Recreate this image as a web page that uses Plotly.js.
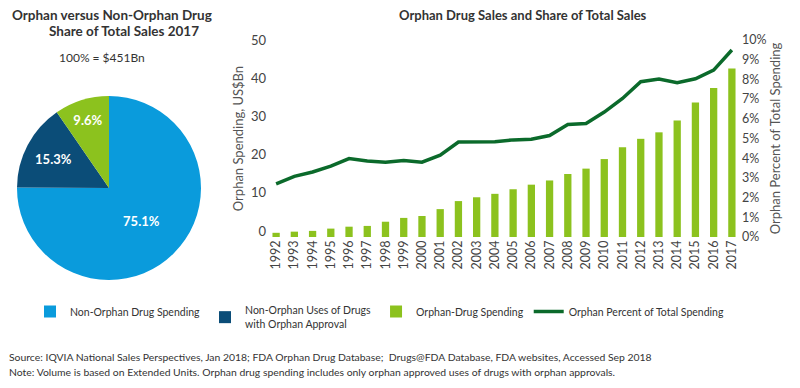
<!DOCTYPE html>
<html>
<head>
<meta charset="utf-8">
<script src="https://cdn.plot.ly/plotly-3.0.1.min.js"></script>
<style>html,body{margin:0;padding:0;background:#fff}#chart{width:800px;height:388px}</style>
</head>
<body>
<div id="chart"></div>
<script>
// ---- data ----
const years = ["1992","1993","1994","1995","1996","1997","1998","1999","2000","2001","2002","2003","2004","2005","2006","2007","2008","2009","2010","2011","2012","2013","2014","2015","2016","2017"];
const orphanSpending = [1.1,1.4,1.6,2.2,2.7,2.9,4.0,5.0,5.5,7.3,9.4,10.4,11.3,12.5,13.7,14.8,16.5,17.9,20.4,23.5,25.7,27.4,30.5,35.2,39.0,44.1];
const orphanPercent = [2.7,3.08,3.3,3.6,3.98,3.86,3.8,3.88,3.8,4.15,4.82,4.82,4.84,4.93,4.96,5.15,5.71,5.76,6.34,7.03,7.88,8.02,7.83,8.03,8.47,9.49];
const pieLabels = ["Non-Orphan Drug Spending","Non-Orphan Uses of Drugs<br>with Orphan Approval","Orphan-Drug Spending"];
const pieShares = [75.1,15.3,9.6];
const spendTicks = [0,10,20,30,40,50];
const pctTicks = [0,1,2,3,4,5,6,7,8,9,10];
const pctTickText = pctTicks.map(v => v + "%");

// ---- style ----
const W = 800, H = 388;
const px = x => x / W, py = y => 1 - y / H;
const BASEFONT = 'Lato, "Liberation Sans", sans-serif';
const blue = '#0a9bdc', navy = '#0b4d78', green = '#8cc21e', dkgreen = '#0b6a2b';

const traces = [
  {
    type: 'pie', labels: pieLabels, values: pieShares, sort: false,
    direction: 'clockwise', rotation: 0,
    domain: {x: [px(17), px(201)], y: [py(280), py(96)]},
    marker: {colors: [blue, navy, green], line: {width: 0}},
    texttemplate: '%{value:.1f}%', textposition: 'inside',
    insidetextfont: {color: '#ffffff', size: 13, family: BASEFONT, weight: 'bold'},
    hoverinfo: 'label+percent', showlegend: true
  },
  {
    type: 'bar', x: years, y: orphanSpending, name: 'Orphan-Drug Spending',
    marker: {color: green}, width: 0.4, xaxis: 'x', yaxis: 'y', showlegend: false
  },
  {
    type: 'scatter', mode: 'lines', x: years, y: orphanPercent,
    name: 'Orphan Percent of Total Spending',
    line: {color: dkgreen, width: 3.5}, xaxis: 'x', yaxis: 'y2'
  }
];

const layout = {
  width: W, height: H, margin: {l: 0, r: 0, t: 0, b: 0},
  paper_bgcolor: '#fff', plot_bgcolor: 'rgba(0,0,0,0)',
  font: {family: BASEFONT, color: '#444'},
  xaxis: {
    type: 'category', domain: [px(267), px(741)], anchor: 'y',
    showgrid: false, zeroline: false, showline: false, ticks: '',
    tickangle: -90, tickfont: {size: 12.5, color: '#444'}
  },
  yaxis: {
    domain: [py(237), py(40)], range: [0, 51.57], anchor: 'x',
    tickvals: spendTicks, ticklabelshift: -6,
    showgrid: false, zeroline: false, showline: false, ticks: '',
    tickfont: {size: 13, color: '#444'},
    title: {text: 'Orphan Spending, US$Bn', font: {size: 13, color: '#555'}, standoff: 4}
  },
  yaxis2: {
    domain: [py(237), py(40)], range: [0, 10], overlaying: 'y', side: 'right', anchor: 'x',
    tickvals: pctTicks, ticktext: pctTickText,
    showgrid: false, zeroline: false, showline: false, ticks: '',
    tickfont: {size: 12.5, color: '#444'},
    title: {text: 'Orphan Percent of Total Spending', font: {size: 13, color: '#555'}, standoff: 4}
  },
  showlegend: true,
  legend: {
    orientation: 'h', x: px(30), y: py(297), xanchor: 'left', yanchor: 'top',
    font: {family: BASEFONT, size: 10.5, color: '#333'}, traceorder: 'normal',
    itemwidth: 30, tracegroupgap: 0
  },
  annotations: [
    {text: '<b>Orphan versus Non-Orphan Drug</b>', x: px(10), y: py(15), xref: 'paper', yref: 'paper',
     xanchor: 'left', yanchor: 'middle', showarrow: false, font: {size: 13.5, color: '#333', family: BASEFONT}},
    {text: '<b>Share of Total Sales 2017</b>', x: px(47), y: py(31), xref: 'paper', yref: 'paper',
     xanchor: 'left', yanchor: 'middle', showarrow: false, font: {size: 13.5, color: '#333', family: BASEFONT}},
    {text: '100% = $451Bn', x: px(102), y: py(57), xref: 'paper', yref: 'paper',
     xanchor: 'center', yanchor: 'middle', showarrow: false, font: {size: 12, color: '#333', family: BASEFONT}},
    {text: '<b>Orphan Drug Sales and Share of Total Sales</b>', x: px(523), y: py(15), xref: 'paper', yref: 'paper',
     xanchor: 'center', yanchor: 'middle', showarrow: false, font: {size: 13, color: '#333', family: BASEFONT}},
    {text: 'Source: IQVIA National Sales Perspectives, Jan 2018; FDA Orphan Drug Database;  Drugs@FDA Database, FDA websites, Accessed Sep 2018',
     x: px(7), y: py(357), xref: 'paper', yref: 'paper', xanchor: 'left', yanchor: 'middle', showarrow: false,
     font: {size: 10.4, color: '#333', family: BASEFONT}},
    {text: 'Note: Volume is based on Extended Units. Orphan drug spending includes only orphan approved uses of drugs with orphan approvals.',
     x: px(7), y: py(372), xref: 'paper', yref: 'paper', xanchor: 'left', yanchor: 'middle', showarrow: false,
     font: {size: 10.4, color: '#333', family: BASEFONT}}
  ]
};

Plotly.newPlot('chart', traces, layout, {staticPlot: true, displayModeBar: false});
</script>
</body>
</html>
